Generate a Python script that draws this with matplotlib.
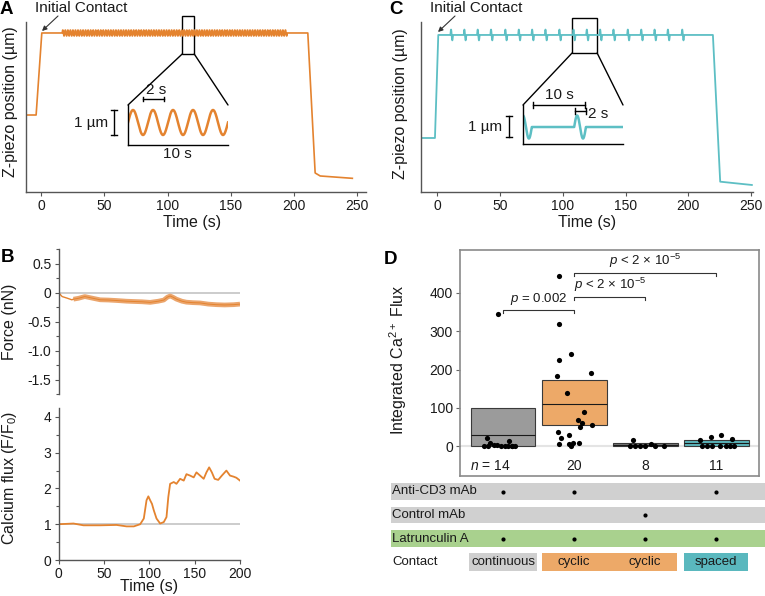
import numpy as np
import matplotlib
matplotlib.use('Agg')
import matplotlib.pyplot as plt
from matplotlib.patches import Rectangle, ConnectionPatch

plt.rcParams['font.family'] = ['Liberation Sans', 'DejaVu Sans']
plt.rcParams['mathtext.fontset'] = 'custom'
plt.rcParams['mathtext.rm'] = 'Liberation Sans'
plt.rcParams['mathtext.it'] = 'Liberation Sans:italic'
plt.rcParams['mathtext.sf'] = 'Liberation Sans'
plt.rcParams['axes.unicode_minus'] = False

ORANGE = '#E4832F'
TEAL = '#5DBFC4'
INK = '#1a1a1a'
AX = '#555555'

# ---------------- data ----------------
# A: continuous cyclic contact (z-piezo, um)
a_t_pre = [-12, -4, 0.5, 16.6]
a_z_pre = [12.83, 12.83, 26.5, 26.5]
a_osc_start, a_osc_end = 16.6, 194.5
a_period, a_amp, a_plateau = 2.0, 0.5, 26.5
a_t_post = [194.5, 210.8, 216.6, 220.6, 246]
a_z_post = [26.5, 26.5, 3.17, 2.67, 2.28]

# C: spaced contact
c_t_pre = [-12.7, -1.6, 1.0]
c_z_pre = [9.0, 9.0, 26.17]
c_plateau, c_amp = 26.17, 0.9
c_pulses = [11.7, 22.3, 32.9, 43.5, 54.9, 65.6, 76.2, 86.8, 97.9, 109.1,
            119.7, 130.3, 140.9, 152.3, 163.0, 173.6, 184.2, 195.6]
c_t_post = [219.5, 225.3, 250.5]
c_z_post = [26.17, 1.72, 1.17]
c_inset_starts = [-0.5, 8.7]
c_inset_amp = 0.55

# B: force (nN) and calcium flux (F/F0)
f_t = [0, 4, 10, 14.7, 16.5, 22, 29, 38, 46, 55, 64, 75, 83, 92, 101, 110, 116,
       120, 123, 126, 130, 136, 141, 148, 156, 165, 174, 183, 193, 200]
f_v = [0, -0.07, -0.1, -0.126, -0.115, -0.1, -0.07, -0.1, -0.126, -0.13, -0.138,
       -0.15, -0.155, -0.16, -0.17, -0.15, -0.13, -0.08, -0.06, -0.08, -0.115,
       -0.15, -0.167, -0.175, -0.18, -0.2, -0.21, -0.215, -0.21, -0.2]
ca_t = [0, 16.5, 27.5, 46, 64, 75, 83, 90, 94, 97, 99, 101, 103, 105, 108, 112,
        116, 119, 121, 123, 127, 130, 134, 138, 141, 145, 149, 152, 156, 160, 163,
        166, 169, 172, 176, 180, 185, 189, 193, 196, 200]
ca_v = [1.0, 1.02, 0.97, 0.97, 0.98, 0.94, 0.94, 1.0, 1.16, 1.67, 1.78, 1.67, 1.57,
        1.39, 1.16, 1.02, 1.06, 1.2, 1.76, 2.13, 2.18, 2.13, 2.27, 2.22, 2.4, 2.36,
        2.31, 2.45, 2.36, 2.27, 2.45, 2.59, 2.45, 2.27, 2.24, 2.36, 2.5, 2.36, 2.33,
        2.3, 2.22]

# D: integrated Ca2+ flux
box_lower = [0, 56, 0.5, 1]
box_upper = [100, 172, 9, 17]
box_median = [28, 109, 3, 9]
box_colors = ['#9B9B9B', '#EDA968', '#7A7A7A', '#5AB5BB']
g_vals = [
    [346, 20, 14, 7, 3, 2, 1, 0, 0, 0, 0, 0, 0, 0],
    [444, 318, 224, 240, 191, 183, 138, 90, 67, 61, 50, 55, 37, 20, 28, 5, 5, 9, 0, 7],
    [15, 0, 0, 0, 0, 5, 0, 0],
    [15, 24, 29, 19, 0, 0, 0, 0, 0, 0, 0],
]
g_dx = [
    [-0.07, -0.23, 0.08, -0.19, -0.13, -0.08, -0.27, -0.03, 0.02, 0.07, 0.12, 0.17, -0.21, 0.13],
    [-0.22, -0.22, -0.22, -0.05, 0.24, -0.24, -0.10, 0.14, 0.05, 0.11, 0.08, 0.25,
     -0.23, -0.18, -0.07, -0.21, -0.07, -0.02, -0.05, 0.07],
    [-0.17, -0.22, -0.14, -0.07, -0.01, 0.08, 0.14, 0.26],
    [-0.23, -0.07, 0.06, 0.22, -0.20, -0.13, -0.06, 0.05, 0.13, 0.19, 0.25],
]
pvals = [(1, 2, 356, '$p$ = 0.002'), (2, 3, 390, '$p$ < 2 × 10$^{-5}$'),
         (2, 4, 452, '$p$ < 2 × 10$^{-5}$')]
row_labels = ['Anti-CD3 mAb', 'Control mAb', 'Latrunculin A']
row_colors = ['#D0D0D0', '#D0D0D0', '#A9D18E']
row_marks = [[1, 1, 0, 1], [0, 0, 1, 0], [1, 1, 1, 1]]
contact_labels = ['continuous', 'cyclic', 'cyclic', 'spaced']
contact_colors = ['#CFCFCF', '#EDA968', '#EDA968', '#5AB8BE']

# ---------------- layout helpers ----------------
W, H = 765, 596
fig = plt.figure(figsize=(W / 100, H / 100), dpi=100)


def px_axes(l, t, r, b):
    return fig.add_axes([l / W, 1 - b / H, (r - l) / W, (b - t) / H])


def ftext(x, y, s, **kw):
    kw.setdefault('color', INK)
    return fig.text(x / W, 1 - y / H, s, **kw)


def style_axes(ax, left=True, bottom=True):
    for sp in ['top', 'right']:
        ax.spines[sp].set_visible(False)
    ax.spines['left'].set_visible(left)
    ax.spines['bottom'].set_visible(bottom)
    for sp in ['left', 'bottom']:
        ax.spines[sp].set_color(AX)
        ax.spines[sp].set_linewidth(1.0)
    ax.tick_params(which='both', direction='out', color=AX, width=0.8,
                   labelsize=10, labelcolor=INK, pad=2)
    ax.tick_params(which='major', length=3)
    ax.tick_params(which='minor', length=2)
    ax.patch.set_alpha(0)


def scalebar_h(ax, x0, x1, y, cap):
    ax.plot([x0, x1], [y, y], color='k', lw=1, clip_on=False)
    ax.plot([x0, x0], [y - cap, y + cap], color='k', lw=1, clip_on=False)
    ax.plot([x1, x1], [y - cap, y + cap], color='k', lw=1, clip_on=False)


def scalebar_v(ax, x, y0, y1, cap):
    ax.plot([x, x], [y0, y1], color='k', lw=1, clip_on=False)
    ax.plot([x - cap, x + cap], [y0, y0], color='k', lw=1, clip_on=False)
    ax.plot([x - cap, x + cap], [y1, y1], color='k', lw=1, clip_on=False)


def inset_frame(ax):
    for sp in ['top', 'right']:
        ax.spines[sp].set_visible(False)
    for sp in ['left', 'bottom']:
        ax.spines[sp].set_color('k')
        ax.spines[sp].set_linewidth(1)
    ax.set_xticks([])
    ax.set_yticks([])
    ax.patch.set_alpha(0)


# ---------------- panel A ----------------
axA = px_axes(26, 22, 366, 192)
style_axes(axA)
t_osc = np.arange(a_osc_start, a_osc_end, 0.05)
z_osc = a_plateau + a_amp * np.sin(2 * np.pi * (t_osc - a_osc_start) / a_period)
tA = np.concatenate([a_t_pre, t_osc, a_t_post])
zA = np.concatenate([a_z_pre, z_osc, a_z_post])
axA.plot(tA, zA, color=ORANGE, lw=1.2)
axA.set_xlim(-12, 256.8)
axA.set_ylim(0, 28.33)
axA.set_xticks([0, 50, 100, 150, 200, 250])
axA.set_yticks([])
axA.add_patch(Rectangle((111.5, 23.0), 9.5, 6.33, fill=False, ec='k', lw=1, clip_on=False))

axAi = px_axes(128, 105, 228, 145)
inset_frame(axAi)
ti = np.linspace(0, 10, 500)
axAi.plot(ti, a_amp * np.sin(2 * np.pi * ti / a_period), color=ORANGE, lw=1.8)
axAi.set_xlim(0, 10)
axAi.set_ylim(-0.9, 0.7)
scalebar_h(axAi, 1.5, 3.6, 0.94, 0.07)
axAi.text(2.85, 1.28, '2 s', ha='center', va='center', fontsize=11, color=INK)
scalebar_v(axAi, -1.4, -0.5, 0.5, 0.3)
axAi.text(-2.0, -0.04, '1 µm', ha='right', va='center', fontsize=11, color=INK)
axAi.text(4.9, -1.26, '10 s', ha='center', va='center', fontsize=11, color=INK)
for xa, xb in [(111.5, 0), (121.0, 1)]:
    fig.add_artist(ConnectionPatch(xyA=(xa, 23.0), coordsA=axA.transData,
                                   xyB=(xb, 1), coordsB=axAi.transAxes, color='k', lw=1))

# ---------------- panel C ----------------
axC = px_axes(421, 22, 753, 192)
style_axes(axC)
t_pl = np.arange(c_t_pre[-1], c_t_post[0], 0.05)
z_pl = np.full_like(t_pl, c_plateau)
for c in c_pulses:
    m = (t_pl >= c - 1) & (t_pl <= c + 1)
    z_pl[m] += c_amp * np.sin(np.pi * (t_pl[m] - (c - 1)))
tC = np.concatenate([c_t_pre, t_pl, c_t_post])
zC = np.concatenate([c_z_pre, z_pl, c_z_post])
axC.plot(tC, zC, color=TEAL, lw=1.3)
axC.set_xlim(-12.7, 251.4)
axC.set_ylim(0, 28.33)
axC.set_xticks([0, 50, 100, 150, 200, 250])
axC.set_yticks([])
axC.add_patch(Rectangle((107.5, 23.17), 19.9, 5.83, fill=False, ec='k', lw=1, clip_on=False))

axCi = px_axes(523, 105, 623, 144)
inset_frame(axCi)
tci = np.arange(0, 17, 0.02)
zci = np.zeros_like(tci)
for s0 in c_inset_starts:
    m = (tci >= s0) & (tci <= s0 + 2)
    zci[m] += c_inset_amp * np.sin(np.pi * (tci[m] - s0))
axCi.plot(tci, zci, color=TEAL, lw=1.8)
axCi.set_xlim(0, 17)
axCi.set_ylim(-0.81, 1.05)
scalebar_h(axCi, 1.7, 10.5, 1.05, 0.14)
axCi.text(6.1, 1.52, '10 s', ha='center', va='center', fontsize=11, color=INK)
scalebar_h(axCi, 8.8, 10.7, 0.76, 0.14)
axCi.text(11.0, 0.62, '2 s', ha='left', va='center', fontsize=11, color=INK)
scalebar_v(axCi, -2.4, -0.48, 0.52, 0.5)
axCi.text(-3.6, 0.02, '1 µm', ha='right', va='center', fontsize=11, color=INK)
for xa, xb in [(107.5, 0), (127.4, 1)]:
    fig.add_artist(ConnectionPatch(xyA=(xa, 23.17), coordsA=axC.transData,
                                   xyB=(xb, 1), coordsB=axCi.transAxes, color='k', lw=1))

# annotations A/C
for (tx, ty), (x0, y0), (x1, y1) in [((35, 8), (58, 16), (42, 31)),
                                     ((430, 8), (455, 16), (438, 32))]:
    ftext(tx, ty, 'Initial Contact', ha='left', va='center', fontsize=11)
    axA.annotate('', xy=(x1, H - y1), xycoords='figure pixels',
                 xytext=(x0, H - y0), textcoords='figure pixels',
                 arrowprops=dict(arrowstyle='-|>', color='#333333', lw=0.8,
                                 mutation_scale=7, shrinkA=0, shrinkB=0))

# ---------------- panel B ----------------
axF = px_axes(58.5, 249, 240, 394)
style_axes(axF, bottom=False)
axF.axhline(0, color='#C8C8C8', lw=1.3, zorder=1)
axF.plot(f_t[:5], f_v[:5], color=ORANGE, lw=1.0, zorder=2)
axF.plot(f_t[4:], f_v[4:], color='#EBA56C', lw=3.4, solid_capstyle='butt', zorder=2)
axF.plot(f_t[4:], f_v[4:], color=ORANGE, lw=0.7, zorder=3)
axF.set_xlim(0, 200)
axF.set_ylim(-1.75, 0.75)
axF.set_xticks([])
axF.set_yticks([-1.5, -1.0, -0.5, 0, 0.5])
axF.set_yticklabels(['-1.5', '-1.0', '-0.5', '0', '0.5'])
axF.set_yticks([-1.75, -1.25, -0.75, -0.25, 0.25, 0.75], minor=True)

axCa = px_axes(58.5, 408, 240, 560)
style_axes(axCa)
axCa.axhline(1, color='#C8C8C8', lw=1.3, zorder=1)
axCa.plot(ca_t, ca_v, color=ORANGE, lw=1.3, zorder=2)
axCa.set_xlim(0, 200)
axCa.set_ylim(0, 4.25)
axCa.set_xticks([0, 50, 100, 150, 200])
axCa.set_yticks([0, 1, 2, 3, 4])
axCa.set_yticks([0.5, 1.5, 2.5, 3.5], minor=True)

# ---------------- panel D ----------------
axD = px_axes(460, 250, 759, 476)
axD.set_xlim(0.394, 4.6)
axD.set_ylim(-78, 512)
for sp in axD.spines.values():
    sp.set_color('#8A8A8A')
    sp.set_linewidth(1.2)
axD.set_xticks([])
axD.set_yticks([0, 100, 200, 300, 400])
axD.tick_params(axis='y', length=3, width=0.8, color='#666666', labelsize=10,
                labelcolor=INK, pad=2)
axD.axhline(0, color='#E4E4E4', lw=1.5, zorder=1)
xs = np.arange(1, 5)
axD.bar(xs, np.array(box_upper) - np.array(box_lower), bottom=box_lower, width=0.91,
        color=box_colors, edgecolor='#3A3A3A', lw=0.8, zorder=2)
axD.hlines(box_median, xs - 0.455, xs + 0.455, color='#1a1a1a', lw=0.8, zorder=2.5)
for i, (vals, dx) in enumerate(zip(g_vals, g_dx)):
    axD.scatter(i + 1 + np.array(dx), vals, s=14, color='k', zorder=3, lw=0)
for x0, x1, y, lab in pvals:
    axD.plot([x0, x0, x1, x1], [y - 9, y, y, y - 9], color='#333333', lw=0.8)
    axD.text((x0 + x1) / 2, y + 7, lab, ha='center', va='bottom', fontsize=9.5, color=INK)
for i, vals in enumerate(g_vals):
    if i == 0:
        axD.text(1.1, -52, f'$n$ = {len(vals)}', ha='right', va='center', fontsize=10, color=INK)
    else:
        axD.text(i + 1, -52, str(len(vals)), ha='center', va='center', fontsize=10, color=INK)

# table under D
axT = px_axes(380, 479.75, 765, 573.75)
axT.set_xlim(1 + (380 - 503) / 71.1, 1 + (765 - 503) / 71.1)
axT.set_ylim(3.5, -0.5)
axT.axis('off')
band_left = 1 + (391 - 503) / 71.1
for r, (lab, col, marks) in enumerate(zip(row_labels, row_colors, row_marks)):
    axT.barh(r, 6, left=band_left, height=0.72, color=col, lw=0)
    axT.text(band_left + 0.02, r, lab, ha='left', va='center', fontsize=9.5, color=INK)
    mx = [g + 1 for g, m in enumerate(marks) if m]
    axT.scatter(mx, [r] * len(mx), s=9, color='k', lw=0, zorder=3)
axT.text(band_left + 0.02, 3, 'Contact', ha='left', va='center', fontsize=9.5, color=INK)
for left, width, col in [(0.52, 0.96, contact_colors[0]), (1.55, 1.9, contact_colors[1]),
                         (3.55, 0.9, contact_colors[3])]:
    axT.barh(3, width, left=left, height=0.77, color=col, lw=0)
for g, lab in enumerate(contact_labels):
    axT.text(g + 1, 3, lab, ha='center', va='center', fontsize=9.5, color=INK)

# ---------------- labels ----------------
ftext(192, 222, 'Time (s)', ha='center', va='center', fontsize=11.5)
ftext(587, 222, 'Time (s)', ha='center', va='center', fontsize=11.5)
ftext(149, 587, 'Time (s)', ha='center', va='center', fontsize=11.5)
ftext(11, 102, 'Z-piezo position (µm)', rotation=90, ha='center', va='center', fontsize=11.5)
ftext(401, 104, 'Z-piezo position (µm)', rotation=90, ha='center', va='center', fontsize=11.5)
ftext(10, 322, 'Force (nN)', rotation=90, ha='center', va='center', fontsize=11.5)
ftext(10, 478, 'Calcium flux (F/F$_0$)', rotation=90, ha='center', va='center', fontsize=11.5)
ftext(398, 360, 'Integrated Ca$^{2+}$ Flux', rotation=90, ha='center', va='center', fontsize=11.5)
for (x, y), s in zip([(6, 9), (396, 9), (7, 258), (391, 259)], ['A', 'C', 'B', 'D']):
    ftext(x, y, s, ha='center', va='center', fontsize=13.5, fontweight='bold', color='k')

fig.savefig('out.png', dpi=100)
